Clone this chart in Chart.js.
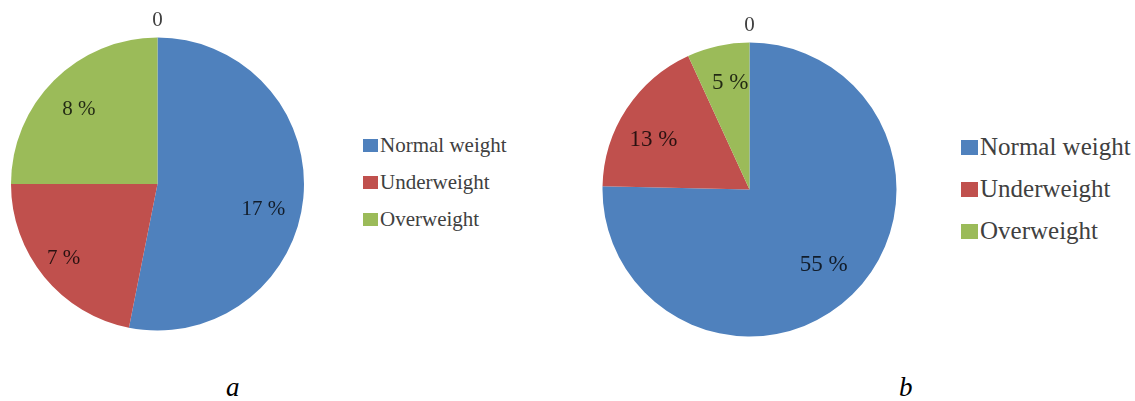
<!DOCTYPE html>
<html lang="en">
<head>
<meta charset="UTF-8">
<title>Body weight pies</title>
<script src="https://cdn.jsdelivr.net/npm/chart.js"></script>
<style>
  body { margin: 0; background: #fff; width: 1135px; height: 401px; overflow: hidden; position: relative; font-family: "Times New Roman", Times, "Liberation Serif", Tinos, "DejaVu Serif", serif; }
  .box { position: absolute; top: 0; }
  .legend { position: absolute; color: #404040; }
  .legend div { position: relative; white-space: nowrap; }
  .legend span { display: inline-block; vertical-align: middle; }
  .cap { position: absolute; font-style: italic; font-size: 27px; color: #000; }
</style>
</head>
<body>
<!-- pie a -->
<div class="box" style="left:0;width:315px;height:340px"><canvas id="pieA"></canvas></div>
<!-- pie b -->
<div class="box" style="left:590px;width:320px;height:360px"><canvas id="pieB"></canvas></div>

<div class="legend" id="legA" style="left:363px;top:131px;font-size:21px"></div>
<div class="legend" id="legB" style="left:961px;top:131px;font-size:25px"></div>

<div class="cap" id="capA" style="left:226px;top:372px"></div>
<div class="cap" id="capB" style="left:899px;top:372px"></div>

<script>
// categories and values
const categories = ['Normal weight', 'Underweight', 'Overweight'];
const valuesA = [17, 7, 8];
const valuesB = [55, 13, 5];
const zeroLabel = '0';
const captions = ['a', 'b'];
const colors = ['#4F81BD', '#C0504D', '#9BBB59'];

const serif = '"Times New Roman", Times, "Liberation Serif", Tinos, serif';

// data labels inside the slices + the "0" above the pie
const sliceLabels = {
  id: 'sliceLabels',
  afterDatasetsDraw(chart, args, opts) {
    const ctx = chart.ctx;
    const meta = chart.getDatasetMeta(0);
    const vals = chart.data.datasets[0].data;
    const nudge = opts.nudge || [];
    ctx.save();
    ctx.textAlign = 'center';
    ctx.textBaseline = 'middle';
    ctx.font = opts.size + 'px ' + serif;
    ctx.fillStyle = 'rgba(0,0,0,0.78)';
    meta.data.forEach((arc, i) => {
      const p = arc.getProps(['x', 'y', 'startAngle', 'endAngle', 'outerRadius'], true);
      const mid = (p.startAngle + p.endAngle) / 2;
      const r = p.outerRadius * 0.74;
      const n = nudge[i] || [0, 0];
      ctx.fillText(vals[i] + ' %', p.x + Math.cos(mid) * r + n[0], p.y + Math.sin(mid) * r + n[1]);
    });
    // zero label above the top
    const a0 = meta.data[0];
    ctx.fillStyle = '#404040';
    ctx.font = '21px ' + serif;
    ctx.fillText(zeroLabel, a0.x, a0.y - a0.outerRadius - 17);
    ctx.restore();
  }
};

function makePie(id, values, pad, size, nudge) {
  return new Chart(document.getElementById(id), {
    type: 'pie',
    data: {
      labels: categories,
      datasets: [{ data: values, backgroundColor: colors, borderWidth: 0 }]
    },
    options: {
      responsive: true,
      maintainAspectRatio: false,
      animation: false,
      layout: { padding: pad },
      plugins: {
        legend: { display: false },
        tooltip: { enabled: false },
        sliceLabels: { size: size, nudge: nudge }
      }
    },
    plugins: [sliceLabels]
  });
}

makePie('pieA', valuesA, { left: 11, right: 11, top: 37.5, bottom: 9.5 }, 21,
  [[-2, 15], [-10, 6], [-2, 2]]);
makePie('pieB', valuesB, { left: 12.5, right: 13.5, top: 42.5, bottom: 23.5 }, 23,
  [[-2, -2], [-5, 10], [4, 0]]);

// legends
function buildLegend(id, sq, gap) {
  const el = document.getElementById(id);
  categories.forEach((c, i) => {
    const row = document.createElement('div');
    row.style.height = gap + 'px';
    row.innerHTML = '<span style="width:' + sq + 'px;height:' + (sq - 2) + 'px;background:' + colors[i] + ';margin-right:2px"></span><span>' + c + '</span>';
    el.appendChild(row);
  });
}
buildLegend('legA', 15, 37);
buildLegend('legB', 17, 42);

document.getElementById('capA').textContent = captions[0];
document.getElementById('capB').textContent = captions[1];
</script>
</body>
</html>
